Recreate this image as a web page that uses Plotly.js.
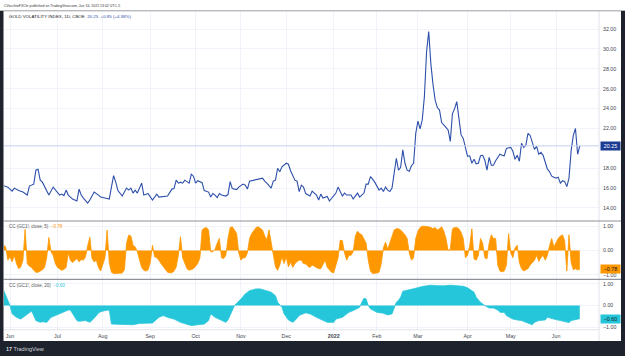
<!DOCTYPE html>
<html><head><meta charset="utf-8">
<script src="https://cdn.plot.ly/plotly-3.0.1.min.js"></script>
<style>html,body{margin:0;padding:0;background:#fff;}#chart{width:625px;height:356px;}</style>
</head><body><div id="chart"></div><script>
// ---------- DATA ----------
const gvzDates = ["2021-05-26","2021-05-28","2021-06-02","2021-06-03","2021-06-07","2021-06-09","2021-06-11","2021-06-14","2021-06-16","2021-06-17","2021-06-18","2021-06-21","2021-06-22","2021-06-25","2021-06-29","2021-06-30","2021-07-02","2021-07-06","2021-07-07","2021-07-08","2021-07-09","2021-07-13","2021-07-15","2021-07-16","2021-07-19","2021-07-20","2021-07-22","2021-07-23","2021-07-27","2021-07-29","2021-07-30","2021-08-03","2021-08-05","2021-08-06","2021-08-09","2021-08-10","2021-08-11","2021-08-13","2021-08-17","2021-08-18","2021-08-19","2021-08-20","2021-08-23","2021-08-24","2021-08-26","2021-08-27","2021-08-31","2021-09-02","2021-09-07","2021-09-08","2021-09-14","2021-09-16","2021-09-17","2021-09-20","2021-09-21","2021-09-22","2021-09-23","2021-09-24","2021-09-28","2021-09-29","2021-09-30","2021-10-01","2021-10-04","2021-10-06","2021-10-07","2021-10-11","2021-10-12","2021-10-13","2021-10-14","2021-10-15","2021-10-18","2021-10-19","2021-10-21","2021-10-22","2021-10-25","2021-10-26","2021-10-28","2021-10-29","2021-11-02","2021-11-03","2021-11-04","2021-11-05","2021-11-09","2021-11-11","2021-11-15","2021-11-16","2021-11-17","2021-11-19","2021-11-22","2021-11-23","2021-11-24","2021-11-26","2021-11-29","2021-12-01","2021-12-02","2021-12-03","2021-12-07","2021-12-08","2021-12-09","2021-12-10","2021-12-13","2021-12-14","2021-12-15","2021-12-16","2021-12-17","2021-12-21","2021-12-22","2021-12-23","2021-12-27","2021-12-29","2021-12-30","2022-01-03","2022-01-04","2022-01-05","2022-01-06","2022-01-07","2022-01-10","2022-01-11","2022-01-13","2022-01-14","2022-01-19","2022-01-20","2022-01-24","2022-01-25","2022-01-26","2022-01-27","2022-01-28","2022-01-31","2022-02-02","2022-02-03","2022-02-04","2022-02-07","2022-02-08","2022-02-09","2022-02-10","2022-02-11","2022-02-14","2022-02-15","2022-02-16","2022-02-17","2022-02-18","2022-02-22","2022-02-23","2022-02-24","2022-02-25","2022-02-28","2022-03-01","2022-03-02","2022-03-03","2022-03-04","2022-03-07","2022-03-08","2022-03-09","2022-03-10","2022-03-11","2022-03-14","2022-03-15","2022-03-16","2022-03-17","2022-03-18","2022-03-21","2022-03-22","2022-03-23","2022-03-24","2022-03-25","2022-03-28","2022-03-29","2022-03-30","2022-03-31","2022-04-01","2022-04-04","2022-04-05","2022-04-06","2022-04-07","2022-04-08","2022-04-11","2022-04-12","2022-04-13","2022-04-14","2022-04-18","2022-04-19","2022-04-20","2022-04-21","2022-04-25","2022-04-26","2022-04-27","2022-04-28","2022-05-02","2022-05-03","2022-05-04","2022-05-05","2022-05-06","2022-05-09","2022-05-10","2022-05-11","2022-05-12","2022-05-13","2022-05-16","2022-05-17","2022-05-18","2022-05-19","2022-05-20","2022-05-23","2022-05-24","2022-05-25","2022-05-26","2022-05-27","2022-05-31","2022-06-01","2022-06-02","2022-06-03","2022-06-06","2022-06-07","2022-06-08","2022-06-09","2022-06-10","2022-06-13","2022-06-14","2022-06-15","2022-06-16"];
const gvzValues = [16.25,16.1,15.7,16.0,15.75,15.6,15.3,16.2,16.4,17.8,17.9,16.8,16.6,15.3,16.1,15.8,15.3,15.4,15.25,15.8,15.3,14.9,14.7,15.9,15.3,15.0,14.5,14.8,15.6,15.3,15.1,15.0,14.9,16.1,17.25,16.6,15.75,15.2,16.0,15.8,16.0,15.5,15.8,15.5,16.5,15.3,15.45,14.8,15.4,15.1,15.2,15.9,15.95,16.8,16.5,16.6,16.5,16.8,16.5,17.4,17.2,16.5,16.75,16.55,15.75,15.6,15.1,15.45,15.3,15.05,15.45,15.3,15.2,15.35,16.65,15.95,15.85,16.1,16.4,16.3,15.9,16.7,16.8,16.85,17.0,16.7,16.5,16.0,16.7,16.8,18.0,17.65,18.15,18.5,18.4,17.75,16.8,16.7,15.65,16.3,16.1,15.45,15.3,15.2,15.7,15.3,14.8,15.4,15.0,15.15,14.7,15.2,15.5,16.1,15.6,15.2,15.5,15.3,15.3,14.9,15.5,15.1,15.5,16.4,16.4,17.15,16.9,16.6,15.8,16.0,15.65,16.1,15.8,15.65,16.0,17.8,19.0,17.8,18.1,19.85,18.5,17.8,17.7,18.25,18.5,21.5,22.75,21.95,22.85,25.2,29.7,31.75,28.5,26.4,24.85,24.1,23.85,22.6,22.4,22.1,21.85,20.7,23.5,24.0,24.7,23.2,21.35,21.0,20.2,19.2,19.25,18.5,18.9,18.45,18.5,19.25,19.3,18.8,17.8,19.1,18.3,18.3,18.75,19.4,19.3,19.25,20.0,20.1,19.7,18.9,19.3,18.7,20.5,20.1,20.3,21.5,21.3,20.6,19.9,20.2,19.4,19.6,19.3,18.6,17.9,17.65,17.2,17.1,17.0,17.1,16.5,16.75,16.65,16.15,17.0,19.8,21.3,22.0,19.4,20.25];

const cc5Dates = ["2021-05-26","2021-05-27","2021-05-28","2021-06-01","2021-06-02","2021-06-03","2021-06-04","2021-06-07","2021-06-08","2021-06-09","2021-06-10","2021-06-11","2021-06-14","2021-06-15","2021-06-16","2021-06-17","2021-06-18","2021-06-21","2021-06-22","2021-06-23","2021-06-24","2021-06-25","2021-06-28","2021-06-29","2021-06-30","2021-07-01","2021-07-02","2021-07-06","2021-07-07","2021-07-08","2021-07-09","2021-07-12","2021-07-13","2021-07-14","2021-07-15","2021-07-16","2021-07-19","2021-07-20","2021-07-21","2021-07-22","2021-07-23","2021-07-26","2021-07-27","2021-07-28","2021-07-29","2021-07-30","2021-08-02","2021-08-03","2021-08-04","2021-08-05","2021-08-06","2021-08-09","2021-08-10","2021-08-11","2021-08-12","2021-08-13","2021-08-16","2021-08-17","2021-08-18","2021-08-19","2021-08-20","2021-08-23","2021-08-24","2021-08-25","2021-08-26","2021-08-27","2021-08-30","2021-08-31","2021-09-01","2021-09-02","2021-09-03","2021-09-07","2021-09-08","2021-09-09","2021-09-10","2021-09-13","2021-09-14","2021-09-15","2021-09-16","2021-09-17","2021-09-20","2021-09-21","2021-09-22","2021-09-23","2021-09-24","2021-09-27","2021-09-28","2021-09-29","2021-09-30","2021-10-01","2021-10-04","2021-10-05","2021-10-06","2021-10-07","2021-10-08","2021-10-11","2021-10-12","2021-10-13","2021-10-14","2021-10-15","2021-10-18","2021-10-19","2021-10-20","2021-10-21","2021-10-22","2021-10-25","2021-10-26","2021-10-27","2021-10-28","2021-10-29","2021-11-01","2021-11-02","2021-11-03","2021-11-04","2021-11-05","2021-11-08","2021-11-09","2021-11-10","2021-11-11","2021-11-12","2021-11-15","2021-11-16","2021-11-17","2021-11-18","2021-11-19","2021-11-22","2021-11-23","2021-11-24","2021-11-26","2021-11-29","2021-11-30","2021-12-01","2021-12-02","2021-12-03","2021-12-06","2021-12-07","2021-12-08","2021-12-09","2021-12-10","2021-12-13","2021-12-14","2021-12-15","2021-12-16","2021-12-17","2021-12-20","2021-12-21","2021-12-22","2021-12-23","2021-12-27","2021-12-28","2021-12-29","2021-12-30","2021-12-31","2022-01-03","2022-01-04","2022-01-05","2022-01-06","2022-01-07","2022-01-10","2022-01-11","2022-01-12","2022-01-13","2022-01-14","2022-01-18","2022-01-19","2022-01-20","2022-01-21","2022-01-24","2022-01-25","2022-01-26","2022-01-27","2022-01-28","2022-01-31","2022-02-01","2022-02-02","2022-02-03","2022-02-04","2022-02-07","2022-02-08","2022-02-09","2022-02-10","2022-02-11","2022-02-14","2022-02-15","2022-02-16","2022-02-17","2022-02-18","2022-02-22","2022-02-23","2022-02-24","2022-02-25","2022-02-28","2022-03-01","2022-03-02","2022-03-03","2022-03-04","2022-03-07","2022-03-08","2022-03-09","2022-03-10","2022-03-11","2022-03-14","2022-03-15","2022-03-16","2022-03-17","2022-03-18","2022-03-21","2022-03-22","2022-03-23","2022-03-24","2022-03-25","2022-03-28","2022-03-29","2022-03-30","2022-03-31","2022-04-01","2022-04-04","2022-04-05","2022-04-06","2022-04-07","2022-04-08","2022-04-11","2022-04-12","2022-04-13","2022-04-14","2022-04-18","2022-04-19","2022-04-20","2022-04-21","2022-04-22","2022-04-25","2022-04-26","2022-04-27","2022-04-28","2022-04-29","2022-05-02","2022-05-03","2022-05-04","2022-05-05","2022-05-06","2022-05-09","2022-05-10","2022-05-11","2022-05-12","2022-05-13","2022-05-16","2022-05-17","2022-05-18","2022-05-19","2022-05-20","2022-05-23","2022-05-24","2022-05-25","2022-05-26","2022-05-27","2022-05-31","2022-06-01","2022-06-02","2022-06-03","2022-06-06","2022-06-07","2022-06-08","2022-06-09","2022-06-10","2022-06-13","2022-06-14","2022-06-15","2022-06-16"];
const cc5Values = [0.22,0.15,-0.4,-0.26,-0.47,-0.2,-0.54,-0.75,-0.68,-0.4,0.88,-0.54,-0.65,-0.7,-0.82,-0.9,-0.9,-0.85,-0.8,-0.7,-0.3,0.54,-0.05,-0.2,-0.54,-0.7,-0.75,-0.82,-0.78,-0.7,-0.1,-0.4,-0.5,-0.4,-0.33,-0.47,-0.37,-0.4,-0.26,0.2,0.55,-0.33,-0.47,-0.4,-0.7,-0.85,-0.6,-0.3,0.85,-0.5,-0.9,-0.95,-0.95,-0.95,-0.93,-0.93,-0.8,0.3,0.64,0.6,0.22,0.15,-0.05,-0.4,-0.7,-0.82,-0.85,-0.8,-0.5,0.22,-0.26,-0.3,-0.4,-0.55,-0.68,-0.8,-0.9,-0.92,-0.92,-0.85,-0.68,-0.2,0.57,-0.3,-0.54,-0.75,-0.82,-0.8,-0.75,-0.65,-0.54,-0.3,0.85,0.92,0.95,0.85,-0.05,-0.05,0.05,0.3,0.5,-0.3,-0.33,-0.2,0.5,0.95,0.98,0.85,0.7,-0.1,-0.4,-0.3,-0.3,-0.1,0.5,0.7,0.85,0.95,0.98,0.9,0.85,0.6,0.45,0.85,0.3,-0.3,-0.68,-0.82,-0.6,-0.26,-0.54,-0.26,-0.68,-0.47,-0.7,-0.55,-0.45,-0.4,-0.4,-0.55,-0.55,-0.65,-0.7,-0.6,-0.65,-0.7,-0.75,-0.75,-0.6,-0.4,-0.7,-0.8,-0.9,-0.92,-0.55,-0.3,0.43,0.4,-0.1,-0.4,-0.2,-0.2,-0.05,0.6,0.8,0.7,0.65,0.5,0.3,-0.4,-0.85,-0.95,-0.95,-0.93,-0.9,-0.55,0.1,0.35,0.05,0.3,0.6,0.85,0.9,0.9,0.85,0.75,0.65,0.5,-0.1,-0.4,-0.3,0.5,0.8,0.95,1.0,1.0,1.0,0.98,0.95,0.9,0.95,0.85,0.9,0.98,0.8,0.5,0.0,0.05,0.9,0.95,0.95,0.9,0.75,0.5,-0.3,-0.2,0.2,0.9,-0.35,-0.4,-0.2,0.5,0.3,-0.3,-0.35,0.3,0.65,0.5,0.5,-0.6,-0.85,-0.88,-0.85,-0.6,0.7,-0.1,-0.3,0.1,0.22,-0.5,-0.75,-0.85,-0.8,-0.75,-0.6,-0.5,-0.4,-0.2,-0.45,-0.3,-0.2,-0.4,-0.2,0.2,0.5,0.15,0.35,0.5,0.6,0.65,0.4,-0.85,0.65,-0.5,-0.8,-0.75,-0.8,-0.78];

const cc20Dates = ["2021-05-26","2021-05-27","2021-05-28","2021-06-01","2021-06-02","2021-06-04","2021-06-08","2021-06-09","2021-06-11","2021-06-14","2021-06-15","2021-06-16","2021-06-17","2021-06-21","2021-06-22","2021-06-24","2021-06-28","2021-06-30","2021-07-02","2021-07-07","2021-07-09","2021-07-12","2021-07-13","2021-07-15","2021-07-16","2021-07-21","2021-07-23","2021-07-27","2021-07-29","2021-07-30","2021-08-03","2021-08-05","2021-08-06","2021-08-10","2021-08-12","2021-08-17","2021-08-20","2021-08-25","2021-08-30","2021-09-02","2021-09-08","2021-09-10","2021-09-14","2021-09-17","2021-09-22","2021-09-27","2021-09-29","2021-10-04","2021-10-07","2021-10-11","2021-10-12","2021-10-14","2021-10-18","2021-10-21","2021-10-22","2021-10-26","2021-10-27","2021-11-01","2021-11-03","2021-11-05","2021-11-10","2021-11-12","2021-11-16","2021-11-19","2021-11-23","2021-11-24","2021-11-29","2021-11-30","2021-12-02","2021-12-06","2021-12-07","2021-12-09","2021-12-14","2021-12-16","2021-12-21","2021-12-27","2021-12-29","2022-01-03","2022-01-04","2022-01-07","2022-01-11","2022-01-12","2022-01-14","2022-01-19","2022-01-20","2022-01-21","2022-01-24","2022-01-25","2022-01-26","2022-01-27","2022-01-28","2022-02-01","2022-02-04","2022-02-08","2022-02-10","2022-02-11","2022-02-14","2022-02-15","2022-02-16","2022-02-17","2022-02-23","2022-02-28","2022-03-03","2022-03-09","2022-03-14","2022-03-17","2022-03-22","2022-03-25","2022-03-30","2022-04-01","2022-04-06","2022-04-07","2022-04-11","2022-04-13","2022-04-18","2022-04-20","2022-04-22","2022-04-25","2022-04-27","2022-04-28","2022-05-03","2022-05-05","2022-05-09","2022-05-11","2022-05-16","2022-05-17","2022-05-19","2022-05-24","2022-05-25","2022-05-31","2022-06-02","2022-06-06","2022-06-09","2022-06-10","2022-06-13","2022-06-14","2022-06-15","2022-06-16"];
const cc20Values = [0.72,0.5,0.3,0.0,-0.38,-0.54,-0.62,-0.54,-0.38,-0.31,-0.25,-0.46,-0.69,-0.77,-0.74,-0.77,-0.54,-0.46,-0.38,-0.31,-0.2,-0.2,-0.38,-0.69,-0.72,-0.69,-0.77,-0.58,-0.34,-0.28,-0.23,-0.2,-0.85,-0.85,-0.85,-0.85,-0.88,-0.82,-0.8,-0.8,-0.54,-0.46,-0.54,-0.62,-0.77,-0.85,-0.92,-0.88,-0.85,-0.69,-0.38,-0.54,-0.62,-0.77,-0.66,-0.23,0.0,0.3,0.54,0.69,0.77,0.77,0.72,0.62,0.46,0.15,-0.08,-0.38,-0.66,-0.77,-0.69,-0.45,-0.33,-0.38,-0.54,-0.69,-0.77,-0.77,-0.62,-0.54,-0.38,-0.31,-0.23,-0.11,-0.08,0.15,0.34,0.31,0.0,-0.15,-0.2,-0.31,-0.35,-0.43,-0.38,-0.08,0.15,0.25,0.38,0.66,0.72,0.8,0.88,0.94,0.92,0.91,0.94,0.92,0.89,0.82,0.62,0.38,0.15,0.0,-0.11,-0.11,-0.2,-0.31,-0.31,-0.46,-0.62,-0.66,-0.69,-0.77,-0.88,-0.77,-0.69,-0.66,-0.54,-0.62,-0.66,-0.72,-0.78,-0.69,-0.66,-0.64,-0.62,-0.60];

const monthTickDates = ["2021-06-01","2021-07-01","2021-08-02","2021-09-01","2021-10-01","2021-11-01","2021-12-01","2022-01-03","2022-02-01","2022-03-01","2022-04-01","2022-05-02","2022-06-01"];
const monthTickLabels = ["Jun","Jul","Aug","Sep","Oct","Nov","Dec","<b>2022</b>","Feb","Mar","Apr","May","Jun"];
const marketHolidays = ["2021-05-31","2021-07-05","2021-09-06","2021-11-25","2021-12-24","2022-01-17","2022-02-21","2022-04-15","2022-05-30"];
const priceTicks = [14,16,18,22,24,26,28,30,32];
const ccTicks = [-1,0,1];
const lastChange = 0.85, lastChangePct = 4.38;

// ---------- LAYOUT HELPERS ----------
const W = 625, H = 356;
const px = x => x / W, py = y => 1 - y / H;
const FONT = "Liberation Sans, Arial, sans-serif";
const AX = "#434651";
const lastGvz = gvzValues[gvzValues.length - 1];
const lastCc5 = cc5Values[cc5Values.length - 1];
const lastCc20 = cc20Values[cc20Values.length - 1];
const BLUE = "#2d4fab", ORANGE = "#ff9800", CYAN = "#26c6da";

const traces = [
  {x: gvzDates, y: gvzValues, type: "scatter", mode: "lines", xaxis: "x", yaxis: "y",
   line: {color: BLUE, width: 1.1}, hoverinfo: "skip"},
  {x: cc5Dates, y: cc5Values, type: "scatter", mode: "lines", xaxis: "x", yaxis: "y2",
   fill: "tozeroy", fillcolor: ORANGE, line: {color: ORANGE, width: 0.8}, hoverinfo: "skip"},
  {x: cc20Dates, y: cc20Values, type: "scatter", mode: "lines", xaxis: "x", yaxis: "y3",
   fill: "tozeroy", fillcolor: CYAN, line: {color: CYAN, width: 0.8}, hoverinfo: "skip"}
];

const yCommon = {side: "right", anchor: "x", showline: false, zeroline: false, ticks: "",
  tickfont: {family: FONT, size: 5.3, color: AX}, gridcolor: "#f0f3fa", gridwidth: 1,
  tickformat: ".2f", ticklabelstandoff: 3, fixedrange: true};

const layout = {
  width: W, height: H, margin: {l: 0, r: 0, t: 0, b: 0},
  paper_bgcolor: "#ffffff", plot_bgcolor: "#ffffff", showlegend: false,
  xaxis: {type: "date", domain: [px(4), px(599)], anchor: "y3",
    range: ["2021-05-26 05:17", "2022-06-28 21:36"],
    rangebreaks: [{pattern: "day of week", bounds: [6, 1]}, {values: marketHolidays}],
    tickmode: "array", tickvals: monthTickDates, ticktext: monthTickLabels,
    tickfont: {family: FONT, size: 5.3, color: AX}, ticks: "", showline: false, zeroline: false,
    showgrid: true, gridcolor: "#f0f3fa", gridwidth: 1, ticklabelstandoff: 2},
  yaxis: Object.assign({}, yCommon, {domain: [py(220.7), py(11.5)], range: [12.72, 33.77], tickvals: priceTicks}),
  yaxis2: Object.assign({}, yCommon, {domain: [py(278.8), py(221.5)], range: [-1.17, 1.2], tickvals: ccTicks}),
  yaxis3: Object.assign({}, yCommon, {domain: [py(329.5), py(280)], range: [-1.10, 1.18], tickvals: ccTicks}),
  shapes: [
    // last price line
    {type: "line", xref: "paper", yref: "y", x0: px(4), x1: px(599), y0: lastGvz, y1: lastGvz,
     line: {color: "#c5cff0", width: 1}},
    // right axis separator
    {type: "line", xref: "paper", yref: "paper", x0: px(599), x1: px(599), y0: py(341), y1: py(11),
     line: {color: "#e0e3eb", width: 1}},
    // bottom time-axis border
    {type: "line", xref: "paper", yref: "paper", x0: px(3.5), x1: px(599), y0: py(329.8), y1: py(329.8),
     line: {color: "#e0e3eb", width: 1}},
    // pane separators
    {type: "line", xref: "paper", yref: "paper", x0: px(3.5), x1: px(621), y0: py(221), y1: py(221),
     line: {color: "#8f929b", width: 1.2}},
    {type: "line", xref: "paper", yref: "paper", x0: px(3.5), x1: px(621), y0: py(279.3), y1: py(279.3),
     line: {color: "#8f929b", width: 1.2}},
    // top header border
    {type: "line", xref: "paper", yref: "paper", x0: 0, x1: 1, y0: py(10.8), y1: py(10.8),
     line: {color: "#9a9da5", width: 1}},
    // dark frame
    {type: "rect", xref: "paper", yref: "paper", x0: 0, x1: px(3.5), y0: 0, y1: py(11), fillcolor: "#1e222d", line: {width: 0}},
    {type: "rect", xref: "paper", yref: "paper", x0: px(621), x1: 1, y0: 0, y1: py(11), fillcolor: "#1e222d", line: {width: 0}},
    {type: "rect", xref: "paper", yref: "paper", x0: 0, x1: 1, y0: 0, y1: py(341), fillcolor: "#1e222d", line: {width: 0}}
  ],
  annotations: [
    {xref: "paper", yref: "paper", x: px(2), y: py(5.5), xanchor: "left", yanchor: "middle", showarrow: false,
     text: "CVecchioFXCle published on TradingView.com, Jun 16, 2022 13:02 UTC-5",
     font: {family: FONT, size: 3.5, color: "#333"}},
    {xref: "paper", yref: "paper", x: px(6.5), y: py(17), xanchor: "left", yanchor: "middle", showarrow: false,
     text: "GOLD VOLATILITY INDEX, 1D, CBOE  <span style='color:" + BLUE + "'>" + lastGvz.toFixed(2) +
       "  +" + lastChange.toFixed(2) + " (+" + lastChangePct.toFixed(2) + "%)</span>",
     font: {family: FONT, size: 4.4, color: "#131722"}},
    {xref: "paper", yref: "paper", x: px(6.5), y: py(226.8), xanchor: "left", yanchor: "middle", showarrow: false,
     text: "CC (GC1!, close, 5)  <span style='color:" + ORANGE + "'>" + lastCc5.toFixed(2).replace("-", "\u2212") + "</span>",
     font: {family: FONT, size: 4.5, color: "#555"}},
    {xref: "paper", yref: "paper", x: px(6.5), y: py(285), xanchor: "left", yanchor: "middle", showarrow: false,
     text: "CC (GC1!, close, 20)  <span style='color:" + CYAN + "'>" + lastCc20.toFixed(2).replace("-", "\u2212") + "</span>",
     font: {family: FONT, size: 4.5, color: "#555"}},
    // last value boxes
    {xref: "paper", yref: "y", x: px(600), y: lastGvz, xanchor: "left", yanchor: "middle", showarrow: false,
     text: lastGvz.toFixed(2), bgcolor: "#1d3d95", width: 18, height: 6.5, borderpad: 0.5,
     font: {family: FONT, size: 5.3, color: "#ffffff"}},
    {xref: "paper", yref: "y2", x: px(600), y: lastCc5, xanchor: "left", yanchor: "middle", showarrow: false,
     text: lastCc5.toFixed(2).replace("-", "\u2212"), bgcolor: ORANGE, width: 18, height: 6.5, borderpad: 0.5,
     font: {family: FONT, size: 5.3, color: "#131722"}},
    {xref: "paper", yref: "y3", x: px(600), y: lastCc20, xanchor: "left", yanchor: "middle", showarrow: false,
     text: lastCc20.toFixed(2).replace("-", "\u2212"), bgcolor: CYAN, width: 18, height: 6.5, borderpad: 0.5,
     font: {family: FONT, size: 5.3, color: "#131722"}},
    // TradingView logo text
    {xref: "paper", yref: "paper", x: px(4), y: py(348.5), xanchor: "left", yanchor: "middle", showarrow: false,
     text: "<b>17</b> TradingView", font: {family: FONT, size: 5.5, color: "#d1d4dc"}}
  ]
};

Plotly.newPlot("chart", traces, layout, {staticPlot: true, displayModeBar: false});
</script></body></html>
